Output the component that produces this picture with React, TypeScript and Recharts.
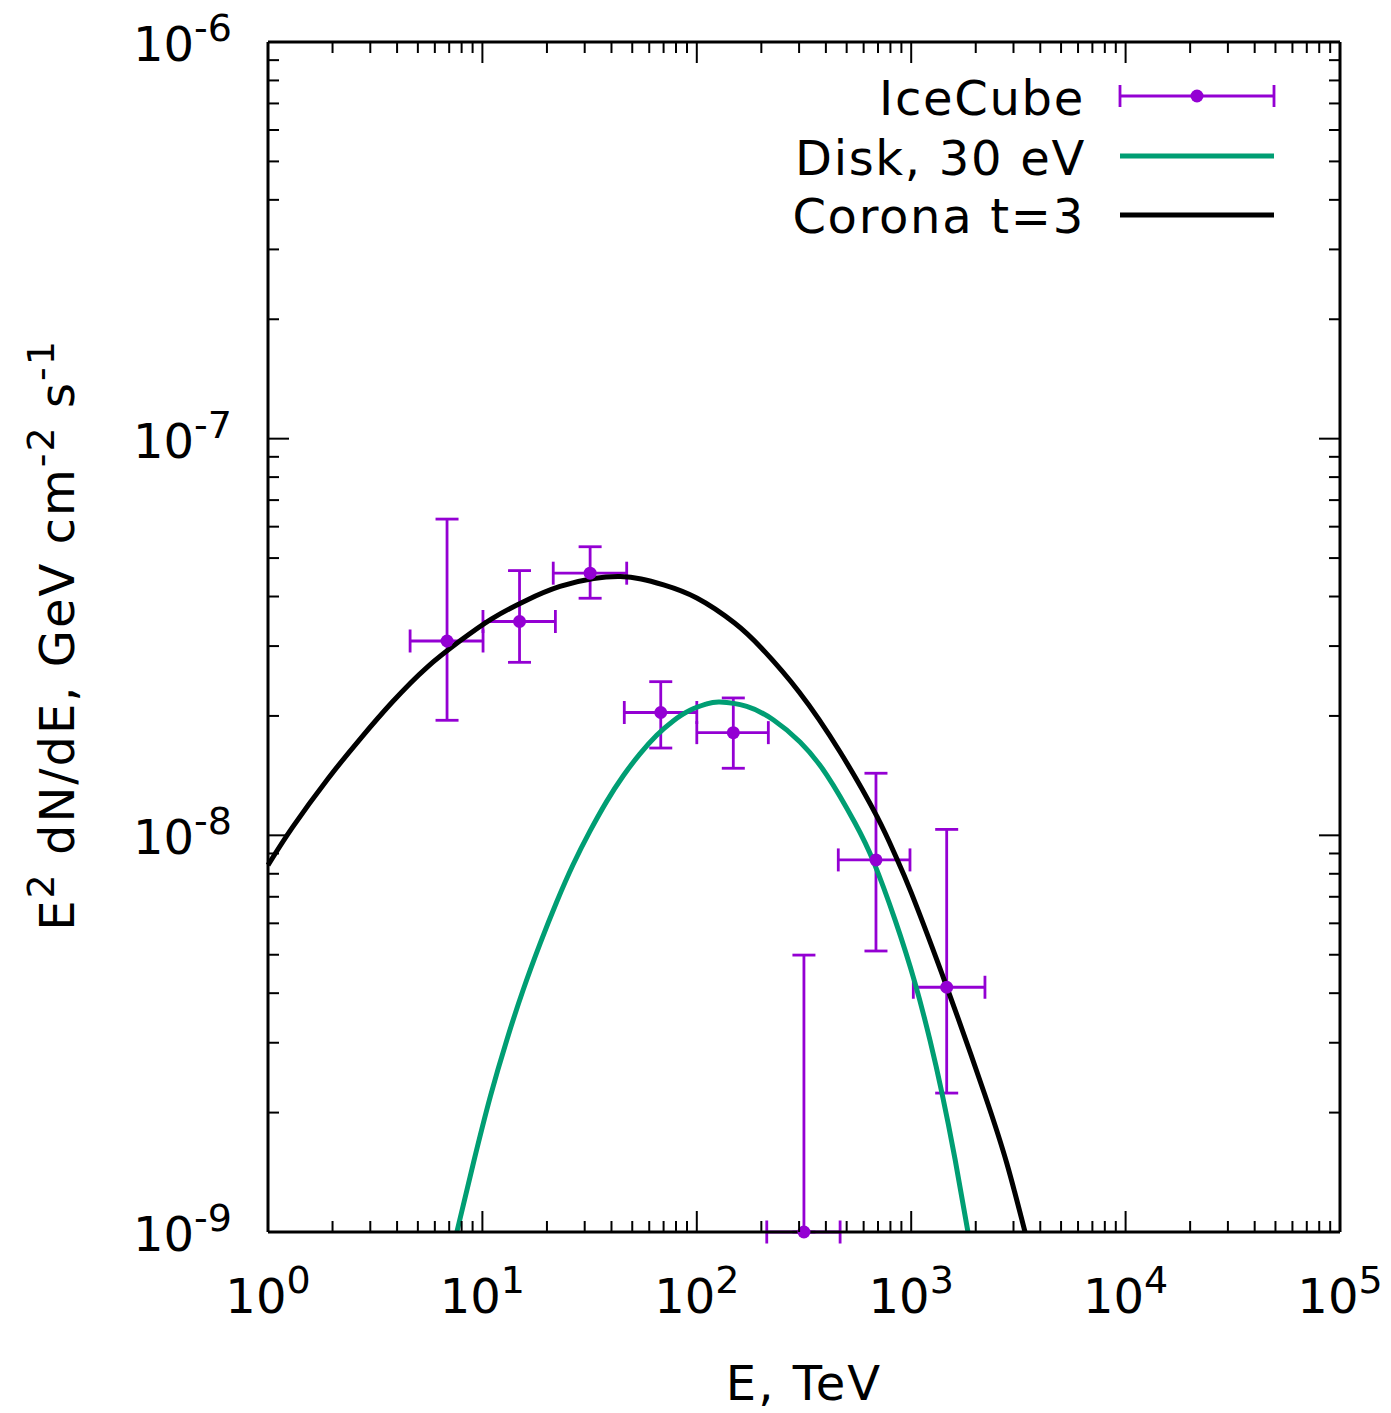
import React from "react";
import { ComposedChart, Line, Scatter, ErrorBar, XAxis, YAxis } from "recharts";

const PURPLE = "#9400d3";
const GREEN = "#009e73";
const FONT = "'DejaVu Sans', sans-serif";

// IceCube points (E in TeV, E^2 dN/dE in GeV cm^-2 s^-1)
const iceEnergy = [6.84, 14.9, 31.8, 67.9, 148, 316, 685, 1464];
const iceEnergyLow = [4.6, 10.06, 21.4, 45.9, 100, 212, 457, 1023];
const iceEnergyHigh = [10.07, 21.9, 47.1, 100, 215.6, 466, 987, 2208];
const iceFlux = [3.09e-8, 3.46e-8, 4.58e-8, 2.04e-8, 1.815e-8, 1.0e-9, 8.67e-9, 4.14e-9];
const iceFluxLow = [1.95e-8, 2.73e-8, 3.96e-8, 1.66e-8, 1.476e-8, 1.0e-9, 5.11e-9, 2.24e-9];
const iceFluxHigh = [6.27e-8, 4.65e-8, 5.34e-8, 2.44e-8, 2.22e-8, 4.99e-9, 1.434e-8, 1.035e-8];

// Disk, 30 eV
const diskEnergy = [7.6, 9.1, 10.9, 13, 15.5, 18.6, 22.2, 26.5, 31.7, 38, 45.4, 54.3, 65, 77.6, 93, 111, 128, 171, 228, 303, 404, 547, 668, 840, 1042, 1224, 1388, 1601, 1840];
const diskFlux = [1.0e-9, 1.5e-9, 2.2e-9, 3.05e-9, 4.08e-9, 5.34e-9, 6.79e-9, 8.44e-9, 1.023e-8, 1.218e-8, 1.413e-8, 1.605e-8, 1.788e-8, 1.943e-8, 2.067e-8, 2.143e-8, 2.168e-8, 2.113e-8, 1.953e-8, 1.719e-8, 1.419e-8, 1.074e-8, 8.57e-9, 6.13e-9, 4.24e-9, 3.04e-9, 2.254e-9, 1.528e-9, 1.0e-9];

// Corona t=3
const coronaEnergy = [1, 1.3, 1.9, 2.7, 3.8, 5.5, 7.9, 11, 16, 23, 33, 44, 55, 70, 100, 150, 200, 300, 466, 690, 848, 1000, 1469, 2199, 2798, 3395];
const coronaFlux = [8.41e-9, 1.047e-8, 1.387e-8, 1.754e-8, 2.168e-8, 2.649e-8, 3.098e-8, 3.51e-8, 3.91e-8, 4.24e-8, 4.44e-8, 4.49e-8, 4.43e-8, 4.28e-8, 3.966e-8, 3.43e-8, 2.967e-8, 2.298e-8, 1.622e-8, 1.119e-8, 8.84e-9, 7.17e-9, 4.133e-9, 2.228e-9, 1.484e-9, 1.0e-9];

const xMajorTicks = [1, 10, 100, 1000, 10000, 100000];
const yMajorTicks = [1e-9, 1e-8, 1e-7, 1e-6];
const minorSteps = [2, 3, 4, 5, 6, 7, 8, 9];

const withMinor = (majors: number[]) =>
  majors.flatMap((d, i) => (i < majors.length - 1 ? [d, ...minorSteps.map((m) => m * d)] : [d]));
const xTicks = withMinor(xMajorTicks);
const yTicks = withMinor(yMajorTicks);

const iceData = iceEnergy.map((e, i) => ({
  e,
  flux: iceFlux[i],
  eErr: [e - iceEnergyLow[i], iceEnergyHigh[i] - e],
  fluxErr: [iceFlux[i] - iceFluxLow[i], iceFluxHigh[i] - iceFlux[i]],
}));
const diskData = diskEnergy.map((e, i) => ({ e, flux: diskFlux[i] }));
const coronaData = coronaEnergy.map((e, i) => ({ e, flux: coronaFlux[i] }));

const MAJOR = 21;
const MINOR = 11;

const isDecade = (v: number) => {
  const l = Math.log10(v);
  return Math.abs(l - Math.round(l)) < 1e-6;
};

const Pow = ({ x, y, exp, anchor }: { x: number; y: number; exp: number; anchor: "middle" | "end" }) => (
  <text x={x} y={y} textAnchor={anchor} fontFamily={FONT} fontSize={48} fill="#000">
    10
    <tspan dy={-20} fontSize={38}>
      {String(exp)}
    </tspan>
  </text>
);

const BottomTick = (p: any) => {
  const v = p.payload.value;
  const major = isDecade(v);
  return (
    <g>
      <line x1={p.x} y1={p.y} x2={p.x} y2={p.y - (major ? MAJOR : MINOR)} stroke="#000" strokeWidth={2} />
      {major && <Pow x={p.x} y={p.y + 81} exp={Math.round(Math.log10(v))} anchor="middle" />}
    </g>
  );
};

const TopTick = (p: any) => {
  const major = isDecade(p.payload.value);
  return <line x1={p.x} y1={p.y} x2={p.x} y2={p.y + (major ? MAJOR : MINOR)} stroke="#000" strokeWidth={2} />;
};

const LeftTick = (p: any) => {
  const v = p.payload.value;
  const major = isDecade(v);
  return (
    <g>
      <line x1={p.x} y1={p.y} x2={p.x + (major ? MAJOR : MINOR)} y2={p.y} stroke="#000" strokeWidth={2} />
      {major && <Pow x={p.x - 36} y={p.y + 19} exp={Math.round(Math.log10(v))} anchor="end" />}
    </g>
  );
};

const RightTick = (p: any) => {
  const major = isDecade(p.payload.value);
  return <line x1={p.x} y1={p.y} x2={p.x - (major ? MAJOR : MINOR)} y2={p.y} stroke="#000" strokeWidth={2} />;
};

const Dot = (p: any) => <circle cx={p.cx} cy={p.cy} r={6.5} fill={PURPLE} />;

const axisLine = { stroke: "#000", strokeWidth: 3 };

function Overlay() {
  return (
    <svg width={1391} height={1413} style={{ position: "absolute", left: 0, top: 0, pointerEvents: "none" }}>
      <g fontFamily={FONT} fontSize={48} fill="#000" letterSpacing={2}>
        <text x={804} y={1400} textAnchor="middle">
          E, TeV
        </text>
        <text transform="translate(74,635) rotate(-90)" textAnchor="middle">
          E
          <tspan dy={-20} fontSize={38}>2</tspan>
          <tspan dy={20}>{" dN/dE, GeV cm"}</tspan>
          <tspan dy={-20} fontSize={38}>-2</tspan>
          <tspan dy={20}>{" s"}</tspan>
          <tspan dy={-20} fontSize={38}>-1</tspan>
        </text>
      </g>
      <g fontFamily={FONT} fontSize={48} fill="#000" letterSpacing={1.7}>
        <text x={1085} y={115} textAnchor="end">IceCube</text>
        <text x={1086} y={175} textAnchor="end">Disk, 30 eV</text>
        <text x={1085} y={233} textAnchor="end">Corona t=3</text>
      </g>
      <g stroke={PURPLE} strokeWidth={2.8}>
        <line x1={1120} y1={96} x2={1274} y2={96} />
        <line x1={1120} y1={85} x2={1120} y2={107} />
        <line x1={1274} y1={85} x2={1274} y2={107} />
      </g>
      <circle cx={1197} cy={96} r={6.5} fill={PURPLE} />
      <line x1={1120} y1={156} x2={1274} y2={156} stroke={GREEN} strokeWidth={5} />
      <line x1={1120} y1={215} x2={1274} y2={215} stroke="#000" strokeWidth={5} />
    </svg>
  );
}

export default function App() {
  return (
    <div style={{ position: "absolute", left: 0, top: 0, width: 1391, height: 1413, background: "#fff" }}>
      <ComposedChart width={1391} height={1413} margin={{ top: 41, right: 50, bottom: 180, left: 267 }}>
        <XAxis
          xAxisId="b"
          dataKey="e"
          type="number"
          scale="log"
          domain={[1, 100000]}
          ticks={xTicks}
          interval={0}
          height={1}
          tickLine={false}
          tickSize={0}
          tickMargin={0}
          tick={BottomTick}
          axisLine={axisLine}
        />
        <XAxis
          xAxisId="t"
          orientation="top"
          dataKey="e"
          type="number"
          scale="log"
          domain={[1, 100000]}
          allowDataOverflow
          ticks={xTicks}
          interval={0}
          height={1}
          tickLine={false}
          tickSize={0}
          tickMargin={0}
          tick={TopTick}
          axisLine={axisLine}
        />
        <YAxis
          yAxisId="l"
          type="number"
          scale="log"
          domain={[1e-9, 1e-6]}
          ticks={yTicks}
          interval={0}
          width={1}
          tickLine={false}
          tickSize={0}
          tickMargin={0}
          tick={LeftTick}
          axisLine={axisLine}
        />
        <YAxis
          yAxisId="r"
          orientation="right"
          type="number"
          scale="log"
          domain={[1e-9, 1e-6]}
          allowDataOverflow
          ticks={yTicks}
          interval={0}
          width={1}
          tickLine={false}
          tickSize={0}
          tickMargin={0}
          tick={RightTick}
          axisLine={axisLine}
        />
        <Scatter
          xAxisId="b"
          yAxisId="l"
          data={iceData}
          dataKey="flux"
          shape={Dot}
          isAnimationActive={false}
        >
          <ErrorBar dataKey="fluxErr" direction="y" width={11.5} stroke={PURPLE} strokeWidth={2.8} isAnimationActive={false} />
          <ErrorBar dataKey="eErr" direction="x" width={11.5} stroke={PURPLE} strokeWidth={2.8} isAnimationActive={false} />
        </Scatter>
        <Line
          xAxisId="b"
          yAxisId="l"
          data={diskData}
          dataKey="flux"
          type="natural"
          stroke={GREEN}
          strokeWidth={5}
          dot={false}
          isAnimationActive={false}
        />
        <Line
          xAxisId="b"
          yAxisId="l"
          data={coronaData}
          dataKey="flux"
          type="natural"
          stroke="#000"
          strokeWidth={5}
          dot={false}
          isAnimationActive={false}
        />
      </ComposedChart>
      <Overlay />
    </div>
  );
}
